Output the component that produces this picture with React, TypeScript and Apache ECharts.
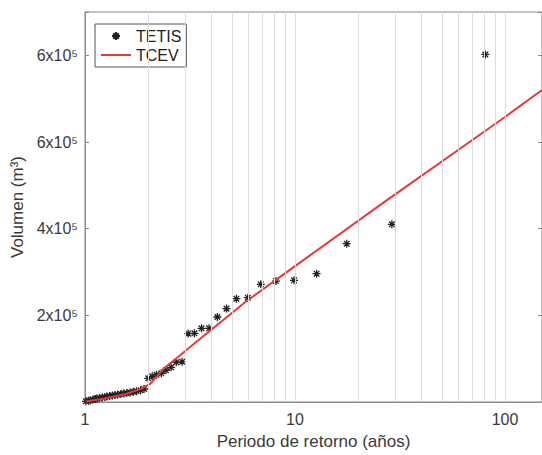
import React, { useEffect, useRef } from "react";
import * as echarts from "echarts";

// TETIS: return period (years) and volume (m3)
const tetisPeriod = [
  80.57, 28.92, 17.63, 12.67, 9.89, 8.12, 6.87, 5.96, 5.26, 4.72,
  4.27, 3.9, 3.59, 3.32, 3.1, 2.9, 2.72, 2.57, 2.43, 2.31,
  2.19, 2.09, 2.0, 1.91, 1.84, 1.76, 1.7, 1.64, 1.58, 1.53,
  1.48, 1.43, 1.39, 1.35, 1.31, 1.27, 1.24, 1.21, 1.17, 1.14,
  1.12, 1.09, 1.06, 1.04, 1.01,
];
const tetisVolume = [
  802000, 410000, 365400, 296200, 280700, 279100, 271500, 240800, 238500, 215500,
  196100, 170000, 170000, 158500, 157800, 92700, 91600, 80000, 73100, 66200,
  62800, 59300, 54700, 30000, 27000, 25000, 23500, 22000, 20500, 19500,
  18500, 17000, 16000, 15000, 14000, 12500, 11500, 10500, 9000, 8000,
  7000, 5500, 4000, 3000, 1500,
];

// TCEV fitted curve
const tcevPeriod = [1.01, 1.23, 1.53, 1.86, 2.05, 2.37, 2.84, 3.03, 5.94, 10, 27.3, 100, 150];
const tcevVolume = [1000, 7800, 17100, 30900, 42400, 77100, 107700, 119300, 234600, 313500, 465300, 657700, 720000];

const xTickValues = [1, 10, 100];
const xTickLabels = ["1", "10", "100"];
const yTickValues = [200000, 400000, 600000, 800000];
const yTickLabels = ["2x10⁵", "4x10⁵", "6x10⁵", "6x10⁵"];
const xGridValues = [2, 3, 4, 5, 6, 7, 8, 9, 10, 20, 30, 40, 50, 60, 70, 80, 90, 100];

const FONT = "Liberation Sans, Arial, Helvetica, sans-serif";
const TEXT = "#3a3a3a";
const AXIS = "#8a8a8a";

const ASTERISK =
  "path://M0,-5L0,5M-5,0L5,0M-3.5,-3.5L3.5,3.5M-3.5,3.5L3.5,-3.5";

export default function App() {
  const ref = useRef<HTMLDivElement>(null);
  useEffect(() => {
    if (!ref.current) return;
    const chart = echarts.init(ref.current, undefined, { renderer: "svg" });
    const xFmt = (v: number) => {
      const i = xTickValues.findIndex((t) => Math.abs(t - v) < 1e-6 * t);
      return i >= 0 ? xTickLabels[i] : "";
    };
    const yFmt = (v: number) => {
      const i = yTickValues.indexOf(v);
      return i >= 0 ? yTickLabels[i] : "";
    };
    chart.setOption({
      animation: false,
      backgroundColor: "#ffffff",
      textStyle: { fontFamily: FONT },
      grid: {
        left: 85,
        right: -2,
        top: 12,
        bottom: 53,
        show: true,
        borderColor: AXIS,
        borderWidth: 1,
        backgroundColor: "transparent",
      },
      legend: {
        left: 95,
        top: 24,
        orient: "vertical",
        itemWidth: 30,
        itemHeight: 8,
        itemGap: 3,
        padding: [4, 5, 4, 5],
        borderColor: "#555",
        borderWidth: 1,
        backgroundColor: "#fff",
        textStyle: { fontSize: 16, color: "#222", fontFamily: FONT },
        data: [
          { name: "TETIS" },
          { name: "TCEV", itemStyle: { opacity: 0 } },
        ],
      },
      xAxis: [
        {
          type: "log",
          logBase: 10,
          min: 1,
          max: 150,
          name: "Periodo de retorno (años)",
          nameLocation: "middle",
          nameGap: 31,
          nameTextStyle: { fontSize: 17, color: TEXT, fontFamily: FONT },
          axisLine: { show: true, lineStyle: { color: AXIS } },
          axisTick: { show: true, inside: true, length: 4, lineStyle: { color: AXIS } },
          axisLabel: {
            formatter: xFmt,
            fontSize: 16,
            color: TEXT,
            margin: 9,
            showMaxLabel: false,
            fontFamily: FONT,
          },
          splitLine: { show: false },
        },
      ],
      yAxis: [
        {
          type: "value",
          min: 0,
          max: 900000,
          interval: 200000,
          name: "Volumen (m³)",
          nameLocation: "middle",
          nameGap: 52,
          nameTextStyle: { fontSize: 17, color: TEXT, fontFamily: FONT },
          axisLine: { show: true, lineStyle: { color: AXIS } },
          axisTick: { show: true, inside: true, length: 4, lineStyle: { color: AXIS } },
          axisLabel: { formatter: yFmt, fontSize: 16, color: TEXT, margin: 7, fontFamily: FONT },
          splitLine: { show: false },
        },
        {
          type: "value",
          position: "right",
          min: 0,
          max: 900000,
          interval: 200000,
          axisLine: { show: true, lineStyle: { color: AXIS } },
          axisTick: { show: true, inside: true, length: 4, lineStyle: { color: AXIS } },
          axisLabel: { show: false },
          splitLine: { show: false },
        },
      ],
      series: [
        {
          name: "TETIS",
          type: "scatter",
          symbol: ASTERISK,
          symbolSize: 8,
          itemStyle: { color: "#222", borderColor: "#222", borderWidth: 1.3, opacity: 1 },
          data: tetisPeriod.map((t, i) => [t, tetisVolume[i]]),
          markLine: {
            silent: true,
            symbol: "none",
            label: { show: false },
            lineStyle: { color: "#dcdcdc", width: 1, type: "solid" },
            emphasis: { disabled: true },
            data: xGridValues.map((v) => ({ xAxis: v })),
          },
        },
        {
          name: "TCEV",
          type: "line",
          symbol: "none",
          smooth: false,
          lineStyle: { color: "#e8393b", width: 2 },
          itemStyle: { color: "#e8393b" },
          data: tcevPeriod.map((t, i) => [t, tcevVolume[i]]),
        },
      ],
    });
    return () => chart.dispose();
  }, []);
  return (
    <div
      ref={ref}
      style={{ position: "absolute", left: 0, top: 0, width: 542, height: 455 }}
    />
  );
}
